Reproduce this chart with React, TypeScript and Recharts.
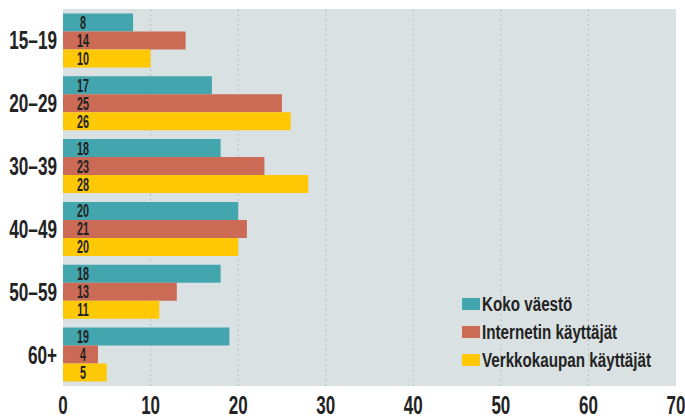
import React, { useEffect } from 'react';
import { BarChart, Bar, XAxis, YAxis, CartesianGrid, LabelList } from 'recharts';

const categories = ['15–19', '20–29', '30–39', '40–49', '50–59', '60+'];
const kokoVaesto = [8, 17, 18, 20, 18, 19];
const internetKayttajat = [14, 25, 23, 21, 13, 4];
const verkkokauppaKayttajat = [10, 26, 28, 20, 11, 5];
const xTicks = [0, 10, 20, 30, 40, 50, 60, 70];
const gridValues = [10, 20, 30, 40, 50, 60];

const SERIES = [
  { key: 'koko', name: 'Koko väestö', color: '#43a5ae' },
  { key: 'internet', name: 'Internetin käyttäjät', color: '#cb6a55' },
  { key: 'verkko', name: 'Verkkokaupan käyttäjät', color: '#ffc805' },
];

const data = categories.map((cat, i) => ({
  cat,
  koko: kokoVaesto[i],
  internet: internetKayttajat[i],
  verkko: verkkokauppaKayttajat[i],
}));

const FONT = '"Liberation Sans", Arial, sans-serif';
const INK = '#232323';

// narrow text: Liberation Sans squeezed horizontally
const XTick = (props: any) => {
  const { x, y, payload } = props;
  return (
    <g transform={`translate(${x},${y})`}>
      <text transform="scale(0.68,1)" x={0} y={20} textAnchor="middle" fill={INK} fontSize={25} fontWeight="bold" fontFamily={FONT}>
        {payload.value}
      </text>
    </g>
  );
};

const YTick = (props: any) => {
  const { x, y, payload } = props;
  return (
    <g transform={`translate(${x},${y})`}>
      <text transform="scale(0.66,1)" x={0} y={0} dy={9} textAnchor="end" fill={INK} fontSize={26} fontWeight="bold" fontFamily={FONT}>
        {payload.value}
      </text>
    </g>
  );
};

const renderBarLabel = (props: any) => {
  const { x, y, height, value } = props;
  return (
    <g transform={`translate(${x + 20},${y + height / 2})`}>
      <text transform="scale(0.6,1)" x={0} y={6.5} textAnchor="middle" fill={INK} fontSize={18} fontWeight="bold" fontFamily={FONT}>
        {value}
      </text>
    </g>
  );
};

export default function App() {
  useEffect(() => {
    document.body.style.margin = '0';
  }, []);

  return (
    <div style={{ position: 'relative', width: 685, height: 419, background: '#fff' }}>
      <BarChart
        width={685}
        height={419}
        data={data}
        layout="vertical"
        margin={{ top: 9, right: 9, bottom: 0, left: 0 }}
        barCategoryGap="7%"
        barGap={0}
      >
        <CartesianGrid
          horizontal={false}
          verticalValues={gridValues}
          fill="#d9e1e2"
          stroke="#b9c2c3"
          strokeDasharray="2 3"
        />
        <XAxis
          type="number"
          domain={[0, 70]}
          ticks={xTicks}
          axisLine={false}
          tickLine={false}
          height={33}
          tick={<XTick />}
          interval={0}
        />
        <YAxis
          type="category"
          dataKey="cat"
          width={63}
          axisLine={false}
          tickLine={false}
          tick={<YTick />}
          tickMargin={0}
        />
        {SERIES.map((s) => (
          <Bar key={s.key} dataKey={s.key} name={s.name} fill={s.color} isAnimationActive={false}>
            <LabelList dataKey={s.key} content={renderBarLabel} />
          </Bar>
        ))}
      </BarChart>
      <div style={{ position: 'absolute', left: 462, top: 290, fontFamily: FONT, fontSize: 20, fontWeight: 'bold', color: INK }}>
        {SERIES.map((s) => (
          <div key={s.key} style={{ display: 'flex', alignItems: 'center', height: 28, whiteSpace: 'nowrap' }}>
            <span style={{ width: 18, height: 12, background: s.color, marginRight: 2, display: 'inline-block', flex: 'none' }} />
            <span style={{ display: 'inline-block', transform: 'scaleX(0.76)', transformOrigin: 'left center' }}>{s.name}</span>
          </div>
        ))}
      </div>
    </div>
  );
}
